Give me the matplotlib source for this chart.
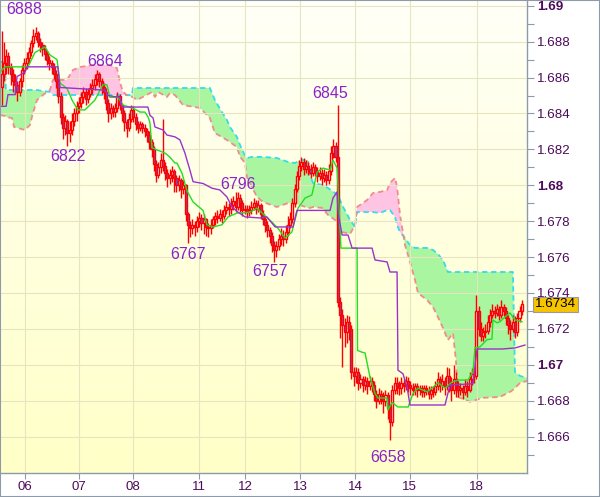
import numpy as np
import matplotlib
matplotlib.use("Agg")
import matplotlib.pyplot as plt
from matplotlib.patches import Rectangle

plt.rcParams['font.family'] = ['Liberation Sans', 'DejaVu Sans']

# prices are stored as pips above 1.6600
base = 1.66
first_open = 255
close_pips = [262, 268, 272, 266, 262, 258, 256, 252, 258, 264,
              268, 271, 274, 279, 283, 285, 280, 278, 276, 273,
              270, 268, 266, 262, 258, 250, 238, 232, 236, 229,
              231, 236, 240, 244, 246, 249, 252, 248, 251, 254,
              256, 259, 262, 258, 255, 252, 246, 240, 243, 241,
              243, 250, 245, 240, 235, 232, 237, 242, 238, 234,
              232, 234, 232, 230, 228, 224, 220, 212, 206, 210,
              214, 211, 207, 204, 206, 208, 204, 200, 203, 198,
              200, 184, 178, 176, 178, 177, 180, 182, 179, 181,
              177, 176, 178, 181, 183, 182, 184, 183, 186, 188,
              187, 189, 191, 188, 193, 190, 186, 187, 185, 186,
              188, 190, 187, 189, 184, 181, 178, 175, 172, 167,
              164, 166, 170, 172, 170, 174, 178, 181, 190, 198,
              205, 211, 213, 209, 211, 209, 207, 210, 208, 205,
              207, 204, 206, 203, 208, 218, 222, 216, 135, 128,
              122, 118, 124, 120, 96, 94, 96, 90, 92, 89,
              91, 88, 91, 89, 84, 80, 84, 82, 80, 83,
              76, 68, 86, 90, 88, 87, 90, 88, 91, 89,
              87, 86, 88, 86, 87, 85, 87, 86, 84, 86,
              85, 88, 92, 89, 91, 88, 94, 90, 86, 92,
              88, 86, 87, 85, 88, 86, 92, 95, 94, 130,
              120, 116, 118, 119, 124, 128, 130, 129, 131, 128,
              132, 130, 126, 122, 120, 124, 118, 126, 130, 134]
high_pips = [286, 280, 276, 274, 268, 265, 262, 258, 260, 267,
             271, 274, 277, 281, 287, 288, 286, 282, 280, 278,
             275, 272, 270, 268, 264, 260, 252, 240, 239, 237,
             236, 240, 243, 247, 249, 252, 255, 254, 254, 257,
             259, 262, 264, 263, 260, 257, 254, 248, 246, 245,
             246, 252, 251, 246, 242, 237, 240, 245, 244, 240,
             236, 236, 235, 234, 232, 230, 226, 222, 214, 213,
             218, 237, 213, 209, 209, 211, 209, 206, 206, 204,
             203, 201, 185, 180, 181, 180, 183, 185, 184, 184,
             182, 179, 181, 183, 185, 186, 187, 186, 189, 191,
             190, 193, 194, 196, 196, 195, 192, 189, 189, 189,
             191, 193, 192, 192, 190, 186, 183, 180, 177, 174,
             169, 169, 173, 176, 175, 178, 183, 185, 193, 201,
             208, 214, 216, 215, 214, 213, 212, 213, 212, 210,
             210, 209, 209, 208, 212, 222, 226, 224, 245, 138,
             131, 126, 128, 127, 122, 99, 99, 98, 95, 94,
             94, 93, 94, 93, 91, 86, 87, 86, 85, 86,
             85, 78, 89, 93, 93, 91, 93, 92, 94, 93,
             91, 90, 90, 90, 89, 89, 89, 89, 88, 88,
             88, 91, 96, 94, 95, 93, 99, 98, 93, 100,
             96, 91, 90, 89, 92, 91, 96, 98, 98, 139,
             133, 124, 121, 123, 128, 131, 134, 133, 134, 133,
             136, 134, 132, 128, 125, 128, 127, 129, 133, 136]
low_pips = [245, 258, 262, 262, 256, 252, 251, 247, 250, 255,
            262, 265, 268, 272, 277, 281, 277, 274, 272, 270,
            267, 264, 262, 259, 254, 246, 234, 226, 228, 222,
            224, 228, 233, 236, 240, 243, 246, 245, 246, 249,
            251, 253, 256, 255, 251, 248, 242, 235, 237, 238,
            238, 241, 242, 236, 230, 227, 230, 235, 235, 231,
            229, 230, 229, 227, 224, 220, 216, 208, 202, 204,
            207, 208, 203, 199, 201, 202, 196, 196, 197, 193,
            195, 180, 168, 171, 173, 172, 174, 177, 175, 173,
            172, 171, 173, 176, 178, 179, 180, 179, 181, 184,
            183, 184, 186, 185, 186, 185, 183, 184, 182, 183,
            184, 186, 184, 185, 181, 178, 174, 171, 168, 163,
            157, 160, 164, 167, 166, 168, 172, 176, 179, 188,
            196, 203, 208, 206, 207, 206, 204, 205, 205, 202,
            203, 200, 202, 200, 201, 206, 215, 213, 132, 115,
            99, 110, 112, 114, 92, 88, 90, 86, 87, 85,
            86, 84, 86, 85, 80, 76, 78, 78, 73, 77,
            70, 58, 66, 84, 84, 83, 84, 85, 86, 85,
            83, 83, 83, 82, 83, 82, 82, 83, 81, 81,
            82, 83, 86, 85, 86, 83, 86, 85, 80, 84,
            82, 82, 83, 81, 83, 82, 85, 89, 90, 92,
            116, 113, 113, 115, 117, 121, 126, 126, 127, 125,
            126, 127, 122, 117, 114, 118, 115, 116, 124, 128]

# Ichimoku lines (bar index, pips)
tenkan_x = [-0.7, 1.5, 11.6, 14.7, 19.1, 21.3, 24.4, 25.7, 28.8, 31.0,
            33.6, 36.7, 41.1, 43.3, 44.6, 46.4, 47.7, 51.2, 53.4, 57.8,
            61.0, 63.1, 64.5, 65.3, 66.2, 68.4, 71.9, 74.1, 76.3, 77.2,
            79.4, 81.6, 84.3, 88.7, 90.4, 93.1, 97.0, 99.7, 103.6, 109.4,
            112.4, 116.0, 119.0, 121.7, 124.8, 127.8, 130.5, 133.6, 136.6, 138.9,
            141.5, 144.6, 145.9, 147.7, 149.4, 156.5, 156.7, 158.7, 160.0, 162.2,
            164.4, 165.7, 169.7, 170.1, 171.9, 174.5, 179.0, 181.1, 183.3, 187.3,
            189.5, 192.1, 195.2, 198.3, 200.9, 205.3, 207.5, 208.4, 210.6, 213.7,
            215.9, 216.3, 218.1, 219.4, 221.6, 223.8, 226.0, 229.1]
tenkan_pips = [263, 266, 266, 274, 277, 272.6, 270, 257, 254, 247.5,
               242, 242, 247.5, 253, 256, 256, 249, 249, 244.7, 243,
               240.8, 240.8, 238, 235, 221, 219.7, 218, 215.7, 212.4, 212.4,
               206.8, 197, 190.7, 186, 178, 176.8, 178, 182.4, 184.5, 185,
               187.3, 183, 179.5, 176, 170.6, 174, 187.3, 192.9, 194.6, 207.4,
               209.6, 208.5, 214, 209.6, 165, 165, 108, 107, 106.6, 93,
               84, 81.5, 81.5, 74.8, 79, 76.5, 76.5, 84, 87, 85,
               87, 90, 87, 90.4, 91.5, 91.5, 96, 109.4, 110, 114,
               114.4, 125, 123.4, 124, 126.6, 128.9, 125, 124]
kijun_x = [-0.7, 2.0, 2.8, 6.0, 6.8, 10.3, 11.2, 24.8, 25.7, 45.5,
           46.8, 52.1, 53.0, 64.4, 65.3, 66.7, 67.5, 71.1, 72.8, 76.3,
           78.5, 80.7, 82.9, 84.3, 88.7, 92.6, 96.1, 99.2, 101.4, 104.1,
           107.2, 113.8, 116.8, 120.4, 128.3, 130.0, 144.6, 145.9, 147.7, 148.1,
           149.9, 152.5, 154.3, 163.1, 164.4, 169.7, 171.0, 174.1, 174.5, 176.7,
           178.5, 179.8, 195.2, 197.4, 207.5, 209.3, 220.3, 226.0, 230.4]
kijun_pips = [244, 244, 250.5, 250.5, 260.6, 263, 266, 266, 254.5, 253,
              250, 249, 243.6, 243.6, 239, 237.5, 232.5, 230.8, 228, 227,
              225.3, 218, 208.5, 202, 201, 198.4, 197.4, 193.5, 188, 185,
              182.4, 181.8, 182.4, 176.8, 176.8, 186, 186, 192.9, 196.3, 185,
              172.3, 172.3, 165, 165, 158.4, 157.3, 151.7, 151.7, 97, 95,
              87.6, 77.6, 77.6, 88.8, 89.4, 108.8, 108.8, 109.4, 111]
cloud_x = [-0.7, 1.5, 1.9, 4.6, 5.5, 10.3, 12.5, 13.8, 15.6, 18.2,
           21.3, 22.6, 28.8, 31.4, 34.5, 40.2, 47.7, 50.8, 52.1, 53.4,
           55.7, 57.4, 57.8, 59.6, 63.1, 66.2, 67.5, 68.9, 72.8, 74.1,
           76.3, 79.9, 87.3, 91.7, 93.9, 97.0, 99.2, 100.5, 103.6, 105.0,
           107.2, 108.0, 110.2, 112.4, 115.1, 121.2, 126.1, 129.2, 131.4, 134.9,
           135.8, 137.1, 141.1, 143.7, 146.8, 148.1, 149.9, 153.4, 155.6, 156.5,
           160.9, 163.5, 166.6, 169.7, 171.0, 173.2, 174.1, 175.4, 177.6, 179.8,
           182.0, 183.3, 187.3, 189.9, 192.1, 194.3, 196.5, 198.7, 200.0, 200.9,
           206.2, 211.9, 219.4, 223.8, 225.1, 226.0, 228.2, 231.3]
span_a_pips = [268.7, 268.7, 253.1, 253.1, 253.1, 253.1, 253.1, 253.1, 253.1, 252.5,
               252.0, 250.3, 250.3, 250.3, 250.3, 250.3, 250.3, 250.3, 250.3, 250.3,
               250.3, 250.3, 254.2, 254.2, 254.2, 254.2, 254.2, 254.2, 254.2, 254.2,
               254.2, 254.2, 254.2, 254.2, 247.5, 240.8, 236.4, 232.5, 226.9, 222.4,
               216.3, 215.2, 215.8, 215.8, 215.8, 215.2, 213.0, 212.4, 214.1, 214.1,
               205.7, 201.3, 200.2, 198.5, 195.7, 194.6, 189.0, 180.7, 176.8, 185.1,
               185.1, 185.1, 184.6, 186.2, 186.2, 182.3, 177.9, 174.0, 170.6, 166.7,
               165.1, 165.1, 165.1, 164.0, 161.7, 158.4, 151.7, 151.7, 151.7, 151.7,
               151.7, 151.7, 151.7, 151.7, 151.7, 96.0, 93.8, 92.7]
span_b_pips = [239.2, 238.6, 238.0, 237.5, 232.5, 230.8, 233.6, 240.3, 247.5, 250.3,
               253.1, 258.7, 258.7, 264.2, 265.9, 267.0, 267.0, 265.3, 257.5, 252.0,
               249.8, 249.2, 249.2, 247.5, 249.8, 252.0, 249.2, 252.0, 249.2, 251.4,
               250.3, 244.7, 243.1, 237.5, 229.1, 226.9, 225.2, 224.1, 221.3, 215.8,
               212.4, 204.6, 199.1, 193.5, 190.7, 187.9, 190.1, 189.6, 189.0, 187.4,
               187.4, 187.9, 187.4, 183.5, 180.7, 177.9, 174.0, 172.9, 177.9, 187.9,
               191.8, 195.7, 196.3, 197.4, 201.3, 204.1, 199.1, 183.5, 166.7, 157.3,
               147.2, 140.0, 136.1, 132.2, 126.6, 120.5, 113.8, 117.7, 102.7, 82.1,
               79.4, 81.6, 82.1, 84.9, 86.0, 87.1, 89.9, 91.0]

day_ticks = [10.1, 33.9, 57.9, 87.1, 107.3, 131.5, 155.8, 179.6, 209.1]
day_labels = ['06', '07', '08', '11', '12', '13', '14', '15', '18']

price_ticks = [1.666, 1.668, 1.67, 1.672, 1.674, 1.676, 1.678, 1.68,
               1.682, 1.684, 1.686, 1.688, 1.69]
price_labels = ['1.666', '1.668', '1.67', '1.672', '1.674', '1.676', '1.678',
                '1.68', '1.682', '1.684', '1.686', '1.688', '1.69']

peak_text = ['6888', '6864', '6822', '6767', '6796', '6757', '6845', '6658']
peak_x = [9.9, 45.5, 29.2, 82.1, 104.1, 118.2, 144.6, 170.1]
peak_y = [1.68977, 1.68687, 1.68158, 1.67612, 1.68002, 1.67517, 1.68514, 1.66486]

last_price = 1.6734


def to_price(p):
    return base + np.asarray(p, dtype=float) / 10000.0


close = to_price(close_pips)
high = to_price(high_pips)
low = to_price(low_pips)
opens = np.concatenate([[to_price(first_open)], close[:-1]])
idx = np.arange(len(close))

fig = plt.figure(figsize=(6.0, 4.97), dpi=100)
ax = fig.add_axes([0.0, 24 / 497, 527 / 600, 473 / 497])

xlim = (-0.7, 231.3)
ylim = (1.663972, 1.690323)

# yellowish background gradient
grad = np.ones((200, 1, 3))
grad[:, 0, 2] = np.linspace(0.97, 0.78, 200)
ax.imshow(grad, extent=[xlim[0], xlim[1], ylim[0], ylim[1]], aspect='auto',
          origin='upper', zorder=0, interpolation='bilinear')

# cloud
a = to_price(span_a_pips)
b = to_price(span_b_pips)
ax.fill_between(cloud_x, a, b, where=a >= b, interpolate=True,
                color='#aaf5a0', lw=0, zorder=1)
ax.fill_between(cloud_x, a, b, where=b > a, interpolate=True,
                color='#ffc4e4', lw=0, zorder=1)
ax.plot(cloud_x, a, color='#33dcee', lw=1.3, ls=(0, (3, 2)), zorder=2)
ax.plot(cloud_x, b, color='#f08c8c', lw=1.3, ls=(0, (3, 2)), zorder=2)

# candles
ax.vlines(idx, low, high, color='#ff0000', lw=1.0, zorder=3)
bear = close < opens
face = np.where(bear, '#6a58c4', '#fffff0')
ax.bar(idx, np.abs(close - opens), bottom=np.minimum(close, opens), width=0.9,
       color=face, edgecolor='#ff0000', linewidth=1.0, zorder=3)

# tenkan / kijun
ax.plot(tenkan_x, to_price(tenkan_pips), color='#22dd22', lw=1.0, zorder=4)
ax.plot(kijun_x, to_price(kijun_pips), color='#9933cc', lw=1.0, zorder=4)

# peak labels
for t, x, y in zip(peak_text, peak_x, peak_y):
    ax.text(x, y, t, color='#8a22cc', fontsize=11.5, ha='center', va='center',
            zorder=6)

ax.set_xlim(*xlim)
ax.set_ylim(*ylim)

ax.yaxis.tick_right()
ax.set_yticks(price_ticks)
ax.set_yticklabels(price_labels)
ax.set_yticks(np.arange(1.665, 1.6901, 0.002), minor=True)
for lab in ax.get_yticklabels():
    if lab.get_text() in ('1.67', '1.68', '1.69'):
        lab.set_fontweight('bold')
ax.set_xticks(day_ticks)
ax.set_xticklabels(day_labels)
ax.tick_params(axis='y', which='both', direction='out', length=5, width=0.8,
               color='#8c9aaa', labelcolor='#4b0a5a', labelsize=9.6, pad=2)
ax.tick_params(axis='x', direction='out', length=4, width=0.8, color='#8c9aaa',
               labelcolor='#4b0a5a', labelsize=9.5, pad=2)

ax.grid(True, which='major', color='#e8e3c0', lw=0.8, zorder=0.5)
ax.set_axisbelow(False)
for s in ('left', 'top'):
    ax.spines[s].set_visible(False)
for s in ('right', 'bottom'):
    ax.spines[s].set_color('#8c9aaa')
    ax.spines[s].set_linewidth(1.0)

# last price tag
ax.annotate('%.4f' % last_price, xy=(1.0, last_price),
            xycoords=('axes fraction', 'data'), xytext=(5.8, -0.5),
            textcoords='offset points', ha='left', va='center', fontsize=9.6,
            color='black', annotation_clip=False, zorder=10,
            bbox=dict(boxstyle='square,pad=0.12', fc='#f7c400', ec='#9a9a9a', lw=0.8))

fig.patches.append(Rectangle((0, 0), 1, 1, transform=fig.transFigure, fill=False,
                             ec='#8c9aaa', lw=1.5))

fig.savefig('out.png', dpi=100)
